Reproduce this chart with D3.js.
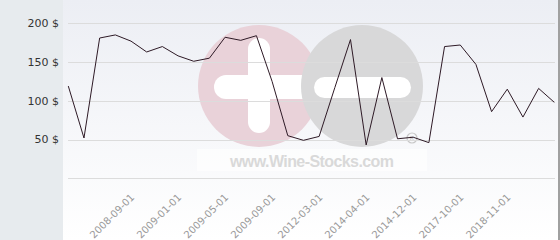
<!DOCTYPE html>
<html>
<head>
<meta charset="utf-8">
<script src="https://cdn.jsdelivr.net/npm/d3@7"></script>
<style>
  body { margin: 0; background: #fff; }
  svg { display: block; }
</style>
</head>
<body>
<svg width="560" height="240"></svg>
<script>
// price history (dates every point, label only every 3rd)
var dates = ["2008-05-01", "2008-06-01", "2008-07-01", "2008-08-01", "2008-09-01", "2008-10-01",
    "2008-11-01", "2009-01-01", "2009-02-01", "2009-03-01", "2009-05-01", "2009-06-01",
    "2009-07-01", "2009-09-01", "2010-06-01", "2011-03-01", "2012-03-01", "2012-11-01",
    "2013-06-01", "2014-04-01", "2014-07-01", "2014-09-01", "2014-12-01", "2015-06-01",
    "2016-11-01", "2017-10-01", "2018-01-01", "2018-06-01", "2018-11-01", "2019-03-01",
    "2019-09-01", "2020-02-01"];
var prices = [119, 52, 181, 185, 177, 163, 170, 158, 151, 155, 182, 178,
    184, 125, 55, 49, 54, 117, 179, 43, 130, 51, 53, 46,
    170, 172, 147, 86, 115, 79, 116, 98];
var yTicks = [50, 100, 150, 200];
var gridTicks = [0, 50, 100, 150, 200];

function main() {
    var svg = d3.select("svg"),
        width = +svg.attr("width"),
        height = +svg.attr("height");

    var defs = svg.append("defs");
    var grad = defs.append("linearGradient")
        .attr("id", "bg")
        .attr("x1", 0).attr("y1", 0).attr("x2", 0).attr("y2", 1);
    grad.append("stop").attr("offset", "0%").attr("stop-color", "#eceef4");
    grad.append("stop").attr("offset", "100%").attr("stop-color", "#ffffff");

    // left panel + plot background
    svg.append("rect").attr("x", 0).attr("y", 0).attr("width", 63).attr("height", height)
        .attr("fill", "#e7ebee");
    svg.append("rect").attr("x", 63).attr("y", 0).attr("width", width - 65).attr("height", height)
        .attr("fill", "url(#bg)");
    svg.append("rect").attr("x", width - 2).attr("y", 0).attr("width", 2).attr("height", height)
        .attr("fill", "#a0a0a0");

    var x = d3.scalePoint().domain(dates).range([68.3, 554.3]);
    var y = d3.scaleLinear().domain([0, 200]).range([178.3, 23.3]);

    // watermark
    var wm = svg.append("g");
    wm.append("circle").attr("cx", 259).attr("cy", 86).attr("r", 61).attr("fill", "#e9d2d9");
    wm.append("rect").attr("x", 248).attr("y", 38).attr("width", 22).attr("height", 95)
        .attr("rx", 11).attr("fill", "#ffffff");
    wm.append("rect").attr("x", 214).attr("y", 75).attr("width", 100).attr("height", 24)
        .attr("rx", 12).attr("fill", "#ffffff");
    wm.append("circle").attr("cx", 362).attr("cy", 86).attr("r", 61).attr("fill", "#d8d8d9");
    wm.append("rect").attr("x", 314).attr("y", 77).attr("width", 97).attr("height", 21)
        .attr("rx", 10.5).attr("fill", "#ffffff");
    wm.append("rect").attr("x", 197).attr("y", 149).attr("width", 230).attr("height", 22)
        .attr("fill", "#ffffff").attr("opacity", 0.6);
    wm.append("text").attr("x", 230).attr("y", 167)
        .attr("textLength", 164)
        .style("font-family", "Liberation Sans, Arial, sans-serif")
        .style("font-weight", "bold")
        .style("font-size", "16px")
        .style("fill", "#d9d9d9")
        .text("www.Wine-Stocks.com");
    wm.append("circle").attr("cx", 412).attr("cy", 138).attr("r", 5)
        .attr("fill", "none").attr("stroke", "#c8c8c8").attr("stroke-width", 1.2);
    wm.append("text").attr("x", 412).attr("y", 141).attr("text-anchor", "middle")
        .style("font-family", "DejaVu Sans, sans-serif").style("font-size", "7px")
        .style("fill", "#c8c8c8").text("R");

    // grid lines
    svg.append("g").selectAll("line")
        .data(gridTicks)
        .enter().append("line")
        .attr("x1", 68).attr("x2", 555)
        .attr("y1", function (d) { return Math.round(y(d)) + 0.5; })
        .attr("y2", function (d) { return Math.round(y(d)) + 0.5; })
        .style("stroke", "#dcdcdc")
        .style("stroke-width", 1);

    // y labels
    svg.append("g").selectAll("text")
        .data(yTicks)
        .enter().append("text")
        .attr("x", 59)
        .attr("y", function (d) { return y(d); })
        .attr("dy", "0.35em")
        .attr("text-anchor", "end")
        .style("font-family", "DejaVu Sans, sans-serif")
        .style("font-size", "11px")
        .style("fill", "#333")
        .text(function (d) { return d + " $"; });

    // x labels, every third date
    var shown = dates.filter(function (d, i) { return i % 3 === 1 && i >= 4 && i <= 28; });
    svg.append("g").selectAll("text")
        .data(shown)
        .enter().append("text")
        .attr("transform", function (d) { return "translate(" + (x(d) + 4) + ",198) rotate(-45)"; })
        .attr("text-anchor", "end")
        .style("font-family", "DejaVu Sans, sans-serif")
        .style("font-size", "10px")
        .style("fill", "#999")
        .text(function (d) { return d; });

    // price line
    var line = d3.line()
        .x(function (d, i) { return x(dates[i]); })
        .y(function (d) { return y(d); });
    svg.append("path")
        .datum(prices)
        .attr("d", line)
        .attr("fill", "none")
        .style("stroke", "#2e1a26")
        .style("stroke-width", 1);
}
main();
</script>
</body>
</html>
